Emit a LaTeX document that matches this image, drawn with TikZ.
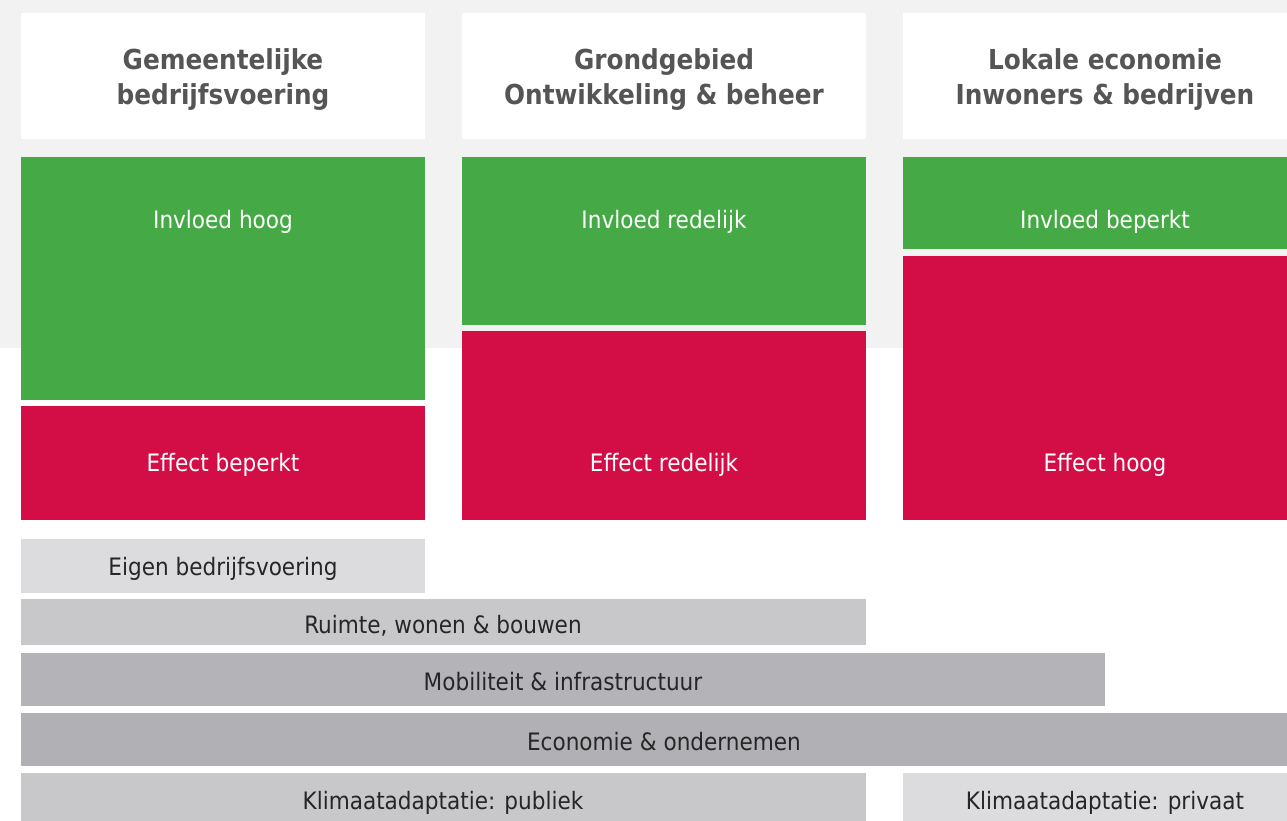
\documentclass[tikz,border=0pt]{standalone}
\usepackage{fontspec}
\setmainfont{DejaVu Sans Condensed}
\definecolor{bggray}{HTML}{F2F2F2}
\definecolor{ggreen}{HTML}{45AA45}
\definecolor{rred}{HTML}{D30D45}
\definecolor{headtxt}{HTML}{555555}
\definecolor{barA}{HTML}{DCDCDE}
\definecolor{barB}{HTML}{C8C8CA}
\definecolor{barC}{HTML}{B4B4B8}
\definecolor{barD}{HTML}{B1B1B5}
\tikzset{
  box/.style={anchor=north west, inner sep=0pt, outer sep=0pt, draw=none},
  headtext/.style={align=center, text=headtxt, font=\fontsize{27.5}{35}\selectfont\bfseries},
  wtext/.style={text=white, font=\fontsize{24}{28}\selectfont},
  btext/.style={text=black!85, font=\fontsize{24}{28}\selectfont},
}
\begin{document}
\begin{tikzpicture}[x=1pt,y=-1pt]
\useasboundingbox (0,0) rectangle (1287,820);
\clip (0,0) rectangle (1287,820);
\fill[white] (0,0) rectangle (1287,820);
\fill[bggray] (0,0) rectangle (1287,348);
% headers
\node[box, fill=white, minimum width=404pt, minimum height=126pt] (h1) at (21,13) {};
\node[box, fill=white, minimum width=404pt, minimum height=126pt] (h2) at (462,13) {};
\node[box, fill=white, minimum width=404pt, minimum height=126pt] (h3) at (903,13) {};
\node[headtext] (h1t) at (223,80) {Gemeentelijke\\bedrijfsvoering};
\node[headtext] (h2t) at (664,80) {Grondgebied\\Ontwikkeling \& beheer};
\node[headtext] (h3t) at (1105,80) {Lokale economie\\Inwoners \& bedrijven};
% column 1
\node[box, fill=ggreen, minimum width=404pt, minimum height=243pt] (g1) at (21,157) {};
\node[box, fill=rred, minimum width=404pt, minimum height=114pt] (r1) at (21,406) {};
\node[wtext] (g1t) at (223,222) {Invloed hoog};
\node[wtext] (r1t) at (223,465) {Effect beperkt};
% column 2
\node[box, fill=ggreen, minimum width=404pt, minimum height=168pt] (g2) at (462,157) {};
\node[box, fill=rred, minimum width=404pt, minimum height=189pt] (r2) at (462,331) {};
\node[wtext] (g2t) at (664,222) {Invloed redelijk};
\node[wtext] (r2t) at (664,465) {Effect redelijk};
% column 3
\node[box, fill=ggreen, minimum width=404pt, minimum height=92pt] (g3) at (903,157) {};
\node[box, fill=rred, minimum width=404pt, minimum height=264pt] (r3) at (903,256) {};
\node[wtext] (g3t) at (1105,222) {Invloed beperkt};
\node[wtext] (r3t) at (1105,465) {Effect hoog};
% bars
\node[box, fill=barA, minimum width=404pt, minimum height=54pt] (b1) at (21,539) {};
\node[btext] (b1t) at (223,569) {Eigen bedrijfsvoering};
\node[box, fill=barB, minimum width=845pt, minimum height=46pt] (b2) at (21,599) {};
\node[btext] (b2t) at (443,626) {Ruimte, wonen \& bouwen};
\node[box, fill=barC, minimum width=1084pt, minimum height=53pt] (b3) at (21,653) {};
\node[btext] (b3t) at (563,682) {Mobiliteit \& infrastructuur};
\node[box, fill=barD, minimum width=1286pt, minimum height=53pt] (b4) at (21,713) {};
\node[btext] (b4t) at (664,742) {Economie \& ondernemen};
\node[box, fill=barB, minimum width=845pt, minimum height=50pt] (b5) at (21,773) {};
\node[btext] (b5t) at (443,803) {Klimaatadaptatie: publiek};
\node[box, fill=barA, minimum width=404pt, minimum height=50pt] (b6) at (903,773) {};
\node[btext] (b6t) at (1105,803) {Klimaatadaptatie: privaat};
\end{tikzpicture}
\end{document}
